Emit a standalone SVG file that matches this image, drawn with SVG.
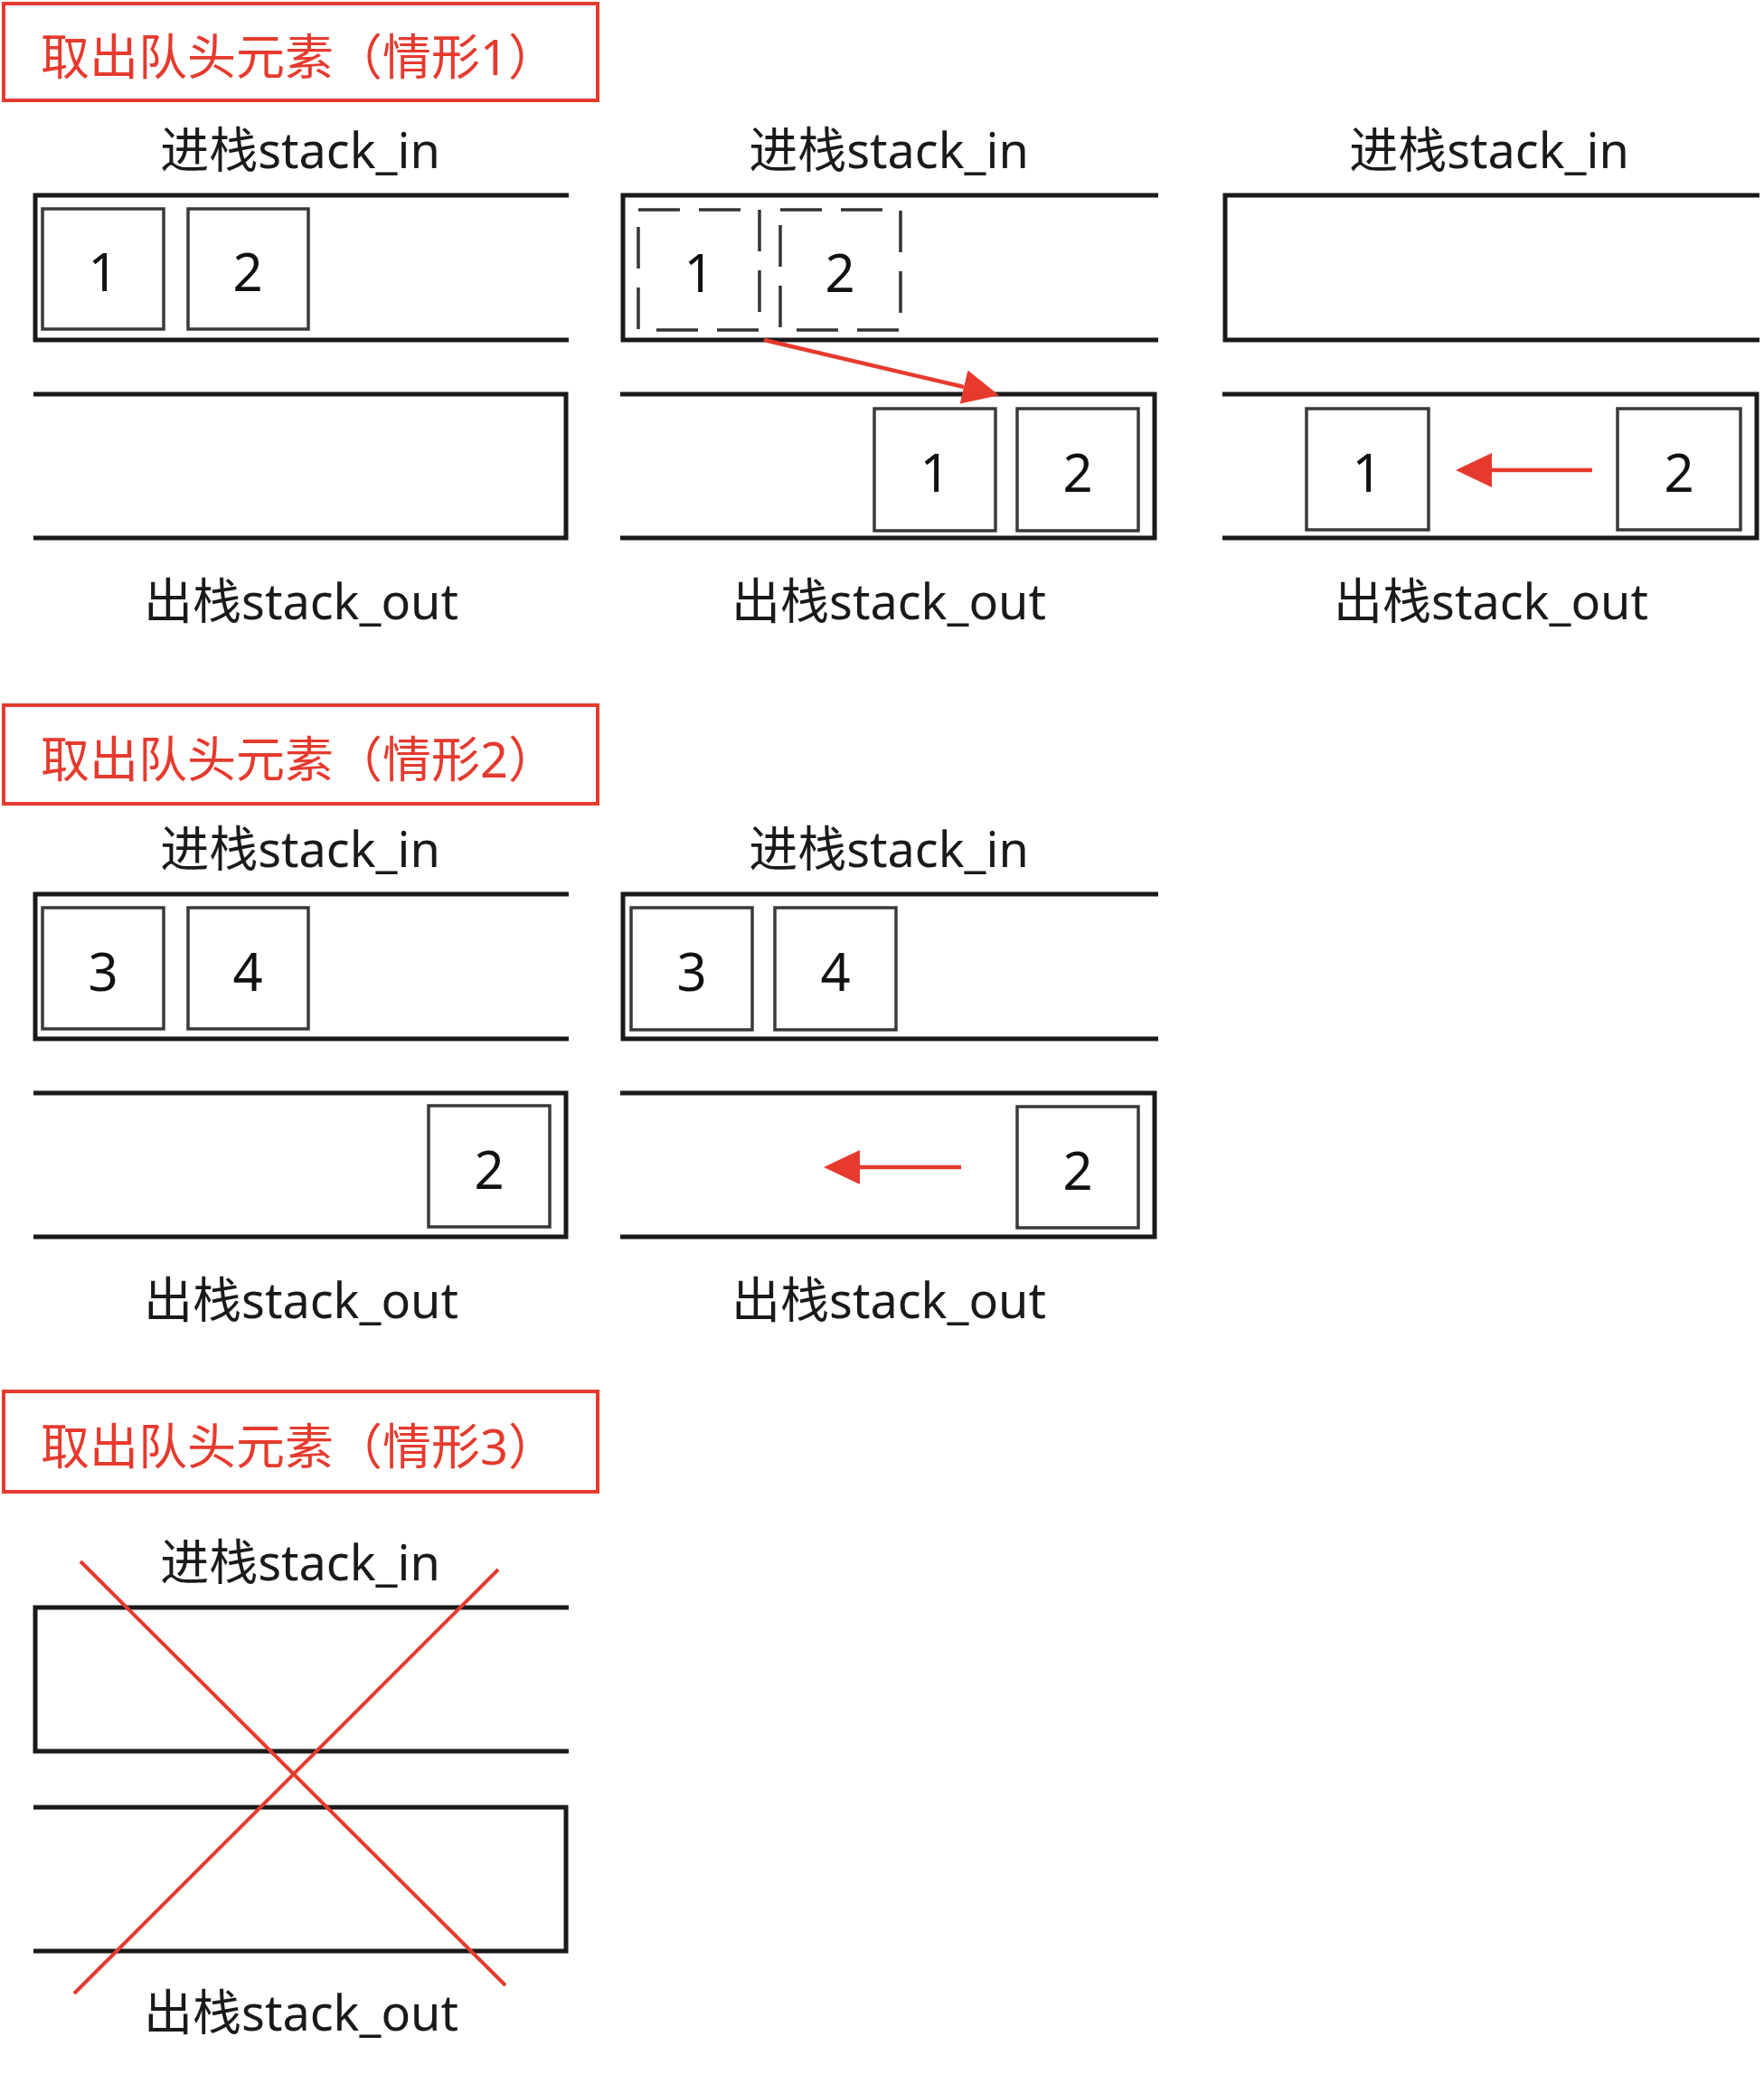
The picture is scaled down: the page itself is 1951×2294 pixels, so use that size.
<svg xmlns="http://www.w3.org/2000/svg" width="1951" height="2294" viewBox="0 0 1951 2294">
<style>
.bg{fill:#ffffff}
.title-box{fill:none;stroke:#e63a2e;stroke-width:4}
.title{font-family:"Noto Sans","Noto Sans CJK SC",sans-serif;font-size:54px;fill:#e63a2e}
.label{font-family:"Noto Sans","Noto Sans CJK SC",sans-serif;font-size:54px;fill:#1a1a1a;text-anchor:middle}
.stack{fill:none;stroke:#1a1a1a;stroke-width:5}
.box{fill:none;stroke:#3a3a3a;stroke-width:3.5}
.dbox{fill:none;stroke:#333333;stroke-width:3.5;stroke-dasharray:46 21}
.num{font-family:"Noto Sans","Liberation Sans",sans-serif;font-size:58px;fill:#111111;text-anchor:middle}
.arrow{fill:none;stroke:#e63a2e;stroke-width:4.5}
.cross{fill:none;stroke:#e63a2e;stroke-width:4}
</style>
<defs>
<marker id="ah" markerUnits="userSpaceOnUse" markerWidth="40" markerHeight="38" refX="0" refY="19" orient="auto">
<path d="M0,0 L40,19 L0,38 Z" fill="#e63a2e"/>
</marker>
</defs>
<rect class="bg" x="0" y="0" width="1951" height="2294"/>

<!-- Section 1 -->
<g id="title1"><rect class="title-box" x="4" y="4" width="657" height="107"/><text class="title" x="45" y="83">取出队头元素（情形1）</text></g>

<g id="s1c1-in"><text class="label" x="332" y="186">进栈stack_in</text><path class="stack" d="M629,216 H39 V376 H629"/></g>
<g id="s1c1-in-1"><rect class="box" x="47" y="231" width="134" height="133"/><text class="num" x="114" y="322">1</text></g>
<g id="s1c1-in-2"><rect class="box" x="208" y="231" width="133" height="133"/><text class="num" x="274" y="322">2</text></g>
<g id="s1c1-out"><path class="stack" d="M37,436 H626 V595 H37"/><text class="label" x="333" y="685">出栈stack_out</text></g>

<g id="s1c2-in"><text class="label" x="983" y="186">进栈stack_in</text><path class="stack" d="M1281,216 H689 V376 H1281"/></g>
<g id="s1c2-in-1"><rect class="dbox" x="706" y="232" width="134" height="133"/><text class="num" x="773" y="323">1</text></g>
<g id="s1c2-in-2"><rect class="dbox" x="863" y="232" width="133" height="133"/><text class="num" x="929" y="323">2</text></g>
<g id="s1c2-out"><path class="stack" d="M686,436 H1277 V595 H686"/><text class="label" x="983" y="685">出栈stack_out</text></g>
<g id="s1c2-out-1"><rect class="box" x="967" y="452" width="134" height="135"/><text class="num" x="1034" y="544">1</text></g>
<g id="s1c2-out-2"><rect class="box" x="1125" y="452" width="134" height="135"/><text class="num" x="1192" y="544">2</text></g>

<g id="s1c3-in"><text class="label" x="1647" y="186">进栈stack_in</text><path class="stack" d="M1946,216 H1355 V376 H1946"/></g>
<g id="s1c3-out"><path class="stack" d="M1352,436 H1943 V595 H1352"/><text class="label" x="1649" y="685">出栈stack_out</text></g>
<g id="s1c3-out-1"><rect class="box" x="1445" y="452" width="135" height="134"/><text class="num" x="1512" y="544">1</text></g>
<g id="s1c3-out-2"><rect class="box" x="1789" y="452" width="136" height="134"/><text class="num" x="1857" y="544">2</text></g>

<!-- Section 2 -->
<g id="title2"><rect class="title-box" x="4" y="780" width="657" height="109"/><text class="title" x="45" y="860">取出队头元素（情形2）</text></g>

<g id="s2c1-in"><text class="label" x="332" y="959">进栈stack_in</text><path class="stack" d="M629,989 H39 V1149 H629"/></g>
<g id="s2c1-in-3"><rect class="box" x="47" y="1004" width="134" height="134"/><text class="num" x="114" y="1096">3</text></g>
<g id="s2c1-in-4"><rect class="box" x="208" y="1004" width="133" height="134"/><text class="num" x="274" y="1096">4</text></g>
<g id="s2c1-out"><path class="stack" d="M37,1209 H626 V1368 H37"/><text class="label" x="333" y="1458">出栈stack_out</text></g>
<g id="s2c1-out-2"><rect class="box" x="474" y="1223" width="134" height="134"/><text class="num" x="541" y="1315">2</text></g>

<g id="s2c2-in"><text class="label" x="983" y="959">进栈stack_in</text><path class="stack" d="M1281,989 H689 V1149 H1281"/></g>
<g id="s2c2-in-3"><rect class="box" x="698" y="1004" width="134" height="135"/><text class="num" x="765" y="1096">3</text></g>
<g id="s2c2-in-4"><rect class="box" x="857" y="1004" width="134" height="135"/><text class="num" x="924" y="1096">4</text></g>
<g id="s2c2-out"><path class="stack" d="M686,1209 H1277 V1368 H686"/><text class="label" x="983" y="1458">出栈stack_out</text></g>
<g id="s2c2-out-2"><rect class="box" x="1125" y="1224" width="134" height="134"/><text class="num" x="1192" y="1316">2</text></g>

<!-- Section 3 -->
<g id="title3"><rect class="title-box" x="4" y="1539" width="657" height="111"/><text class="title" x="45" y="1620">取出队头元素（情形3）</text></g>
<g id="s3c1-in"><text class="label" x="332" y="1748">进栈stack_in</text><path class="stack" d="M629,1778 H39 V1937 H629"/></g>
<g id="s3c1-out"><path class="stack" d="M37,1999 H626 V2158 H37"/><text class="label" x="333" y="2246">出栈stack_out</text></g>

<g id="connectors">
<line class="arrow" x1="845" y1="376" x2="1066" y2="428" marker-end="url(#ah)"/>
<line class="arrow" x1="1761" y1="520" x2="1650" y2="520" marker-end="url(#ah)"/>
<line class="arrow" x1="1063" y1="1291" x2="951" y2="1291" marker-end="url(#ah)"/>
</g>
<g id="cross">
<line class="cross" x1="89" y1="1727" x2="559" y2="2196"/>
<line class="cross" x1="551" y1="1736" x2="82" y2="2205"/>
</g>
</svg>
